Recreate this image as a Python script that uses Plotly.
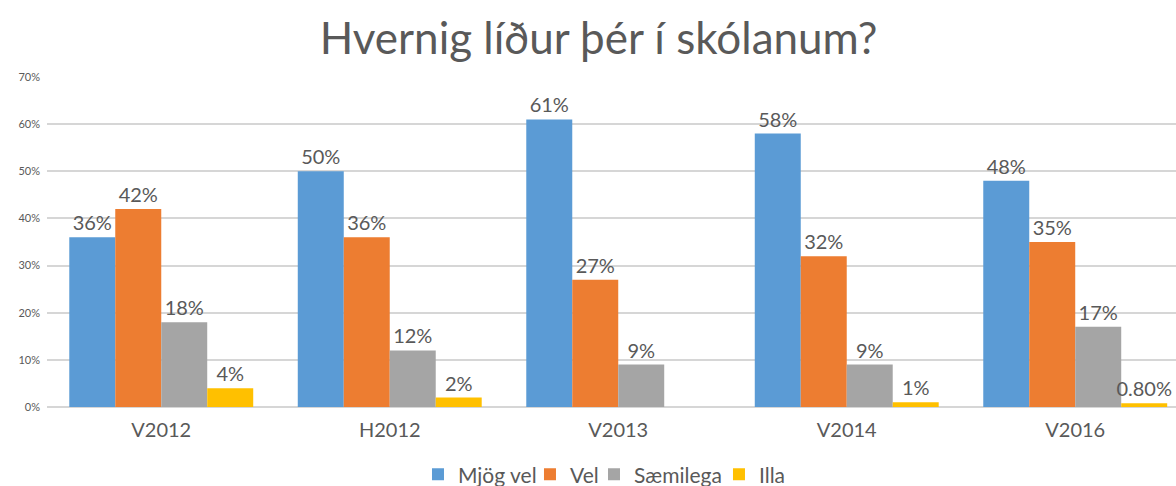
import plotly.graph_objects as go

categories = ["V2012", "H2012", "V2013", "V2014", "V2016"]
series_names = ["Mjög vel", "Vel", "Sæmilega", "Illa"]
mjog_vel = [36, 50, 61, 58, 48]
vel = [42, 36, 27, 32, 35]
saemilega = [18, 12, 9, 9, 17]
illa = [4, 2, None, 1, 0.8]
colors = ["#5B9BD5", "#ED7D31", "#A5A5A5", "#FFC000"]
legend_x = [0.3286, 0.4278, 0.4845, 0.5952]

def fmt(v):
    if v is None:
        return ""
    if v < 1:
        return f"{v:.2f}%"
    return f"{v:g}%"

FONT = "Lato"
LEG_IDS = ["legend", "legend2", "legend3", "legend4"]
fig = go.Figure()
for name, vals, col, lid in zip(series_names, [mjog_vel, vel, saemilega, illa], colors, LEG_IDS):
    fig.add_trace(go.Bar(
        name=name, x=categories, y=vals, marker_color=col,
        marker_line_width=0, legend=lid,
        text=[fmt(v) for v in vals], textposition="outside",
        textfont=dict(size=20, color="#595959", family=FONT),
        constraintext="none", cliponaxis=False,
    ))

legends = {}
for lid, lx in zip(LEG_IDS, legend_x):
    legends[lid] = dict(orientation="h", x=lx, xanchor="left", y=-0.205, yanchor="middle",
                        font=dict(size=21, color="#595959", family=FONT),
                        bgcolor="rgba(0,0,0,0)", borderwidth=0)

fig.update_layout(
    width=1176, height=486,
    paper_bgcolor="white", plot_bgcolor="white",
    title=dict(text="Hvernig líður þér í skólanum?", x=0.509, xanchor="center",
               y=0.92, yanchor="middle",
               font=dict(size=44, color="#595959", family=FONT)),
    barmode="group", bargap=0.195, bargroupgap=0,
    margin=dict(l=47, r=0, t=77, b=79, autoexpand=False),
    font=dict(family=FONT, color="#595959"),
    showlegend=True,
    **legends,
)
fig.update_yaxes(range=[0, 70], dtick=10, ticksuffix="%", showgrid=True,
                 gridcolor="#D6D6D6", gridwidth=2, zeroline=True, zerolinecolor="#D6D6D6",
                 zerolinewidth=2,
                 tickfont=dict(size=11, color="#595959"), showline=False, ticks="",
                 ticklabelstandoff=6, automargin=False)
fig.update_xaxes(range=[-0.5, 4.441], tickfont=dict(size=20, color="#595959"),
                 showline=False, ticks="", ticklabelstandoff=9, automargin=False)

fig.write_html(
    "out.html",
    config={"displayModeBar": False},
    post_script="document.body.style.margin='0';document.body.style.overflow='hidden';",
)
